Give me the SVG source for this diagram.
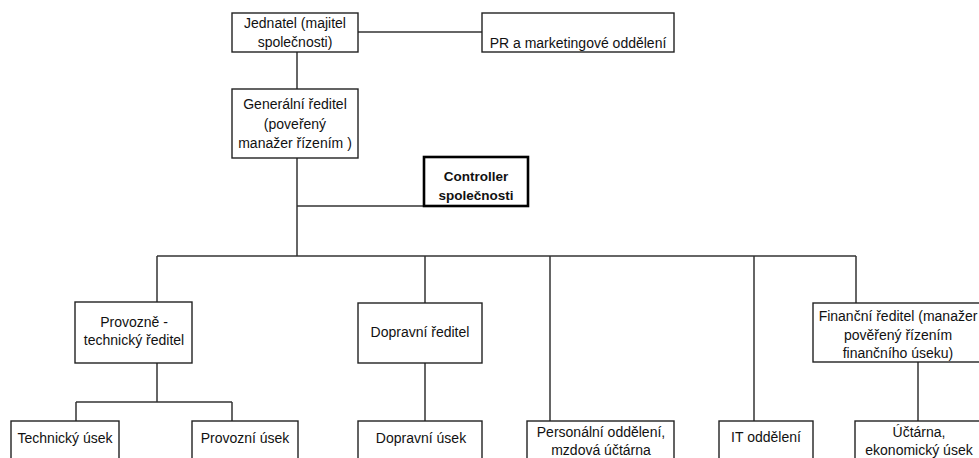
<svg xmlns="http://www.w3.org/2000/svg" width="979" height="458" viewBox="0 0 979 458">
<style>
  .box { fill: #ffffff; stroke: #222222; stroke-width: 1.4; }
  .thick { fill: #ffffff; stroke: #000000; stroke-width: 2.6; }
  .t { font-family: "Liberation Sans", Arial, sans-serif; font-size: 14px; fill: #111111; text-anchor: middle; }
  .b { font-weight: bold; font-size: 13.5px; }
  .c { stroke: #333333; stroke-width: 1.5; fill: none; }
</style>
<rect width="979" height="458" fill="#ffffff"/>
<g id="connectors">
  <line class="c" x1="358" y1="32" x2="482" y2="32"/>
  <line class="c" x1="297" y1="52" x2="297" y2="89"/>
  <line class="c" x1="297" y1="158" x2="297" y2="256"/>
  <line class="c" x1="297" y1="206" x2="424" y2="206"/>
  <line class="c" x1="157" y1="256" x2="856" y2="256"/>
  <line class="c" x1="157" y1="256" x2="157" y2="303"/>
  <line class="c" x1="425" y1="256" x2="425" y2="303"/>
  <line class="c" x1="550" y1="256" x2="550" y2="421"/>
  <line class="c" x1="754" y1="256" x2="754" y2="421"/>
  <line class="c" x1="856" y1="256" x2="856" y2="303"/>
  <line class="c" x1="157" y1="363" x2="157" y2="402"/>
  <line class="c" x1="76" y1="402" x2="232" y2="402"/>
  <line class="c" x1="76" y1="402" x2="76" y2="421"/>
  <line class="c" x1="232" y1="402" x2="232" y2="421"/>
  <line class="c" x1="425" y1="363" x2="425" y2="421"/>
  <line class="c" x1="918" y1="362" x2="918" y2="421"/>
</g>
<g id="jednatel">
  <rect class="box" x="232" y="13" width="126" height="39"/>
  <text class="t" x="295" y="28">Jednatel (majitel</text>
  <text class="t" x="295" y="47">společnosti)</text>
</g>
<g id="pr">
  <rect class="box" x="482" y="13" width="192" height="39"/>
  <text class="t" x="578" y="48">PR a marketingové oddělení</text>
</g>
<g id="generalni">
  <rect class="box" x="232" y="89" width="126" height="69"/>
  <text class="t" x="295" y="109">Generální ředitel</text>
  <text class="t" x="295" y="129">(poveřený</text>
  <text class="t" x="295" y="148">manažer řízením )</text>
</g>
<g id="controller">
  <rect class="thick" x="424" y="157" width="104" height="49"/>
  <text class="t b" x="476" y="181">Controller</text>
  <text class="t b" x="476" y="200">společnosti</text>
</g>
<g id="provozne">
  <rect class="box" x="75" y="302" width="117" height="61"/>
  <text class="t" x="134" y="327">Provozně -</text>
  <text class="t" x="134" y="345">technický ředitel</text>
</g>
<g id="dopravni-reditel">
  <rect class="box" x="358" y="303" width="124" height="60"/>
  <text class="t" x="420" y="337">Dopravní ředitel</text>
</g>
<g id="financni">
  <rect class="box" x="813" y="303" width="175" height="59"/>
  <text class="t" x="898" y="321">Finanční ředitel (manažer</text>
  <text class="t" x="898" y="340">pověřený řízením</text>
  <text class="t" x="898" y="358">finančního úseku)</text>
</g>
<g id="technicky">
  <rect class="box" x="11" y="421" width="108" height="50"/>
  <text class="t" x="65" y="443">Technický úsek</text>
</g>
<g id="provozni">
  <rect class="box" x="192" y="421" width="106" height="50"/>
  <text class="t" x="245" y="443">Provozní úsek</text>
</g>
<g id="dopravni-usek">
  <rect class="box" x="358" y="421" width="124" height="50"/>
  <text class="t" x="421" y="443">Dopravní úsek</text>
</g>
<g id="personalni">
  <rect class="box" x="527" y="421" width="147" height="50"/>
  <text class="t" x="601" y="437">Personální oddělení,</text>
  <text class="t" x="601" y="455">mzdová účtárna</text>
</g>
<g id="it">
  <rect class="box" x="719" y="421" width="94" height="50"/>
  <text class="t" x="766" y="442">IT oddělení</text>
</g>
<g id="uctarna">
  <rect class="box" x="855" y="421" width="130" height="50"/>
  <text class="t" x="919" y="437">Účtárna,</text>
  <text class="t" x="919" y="455">ekonomický úsek</text>
</g>
</svg>
